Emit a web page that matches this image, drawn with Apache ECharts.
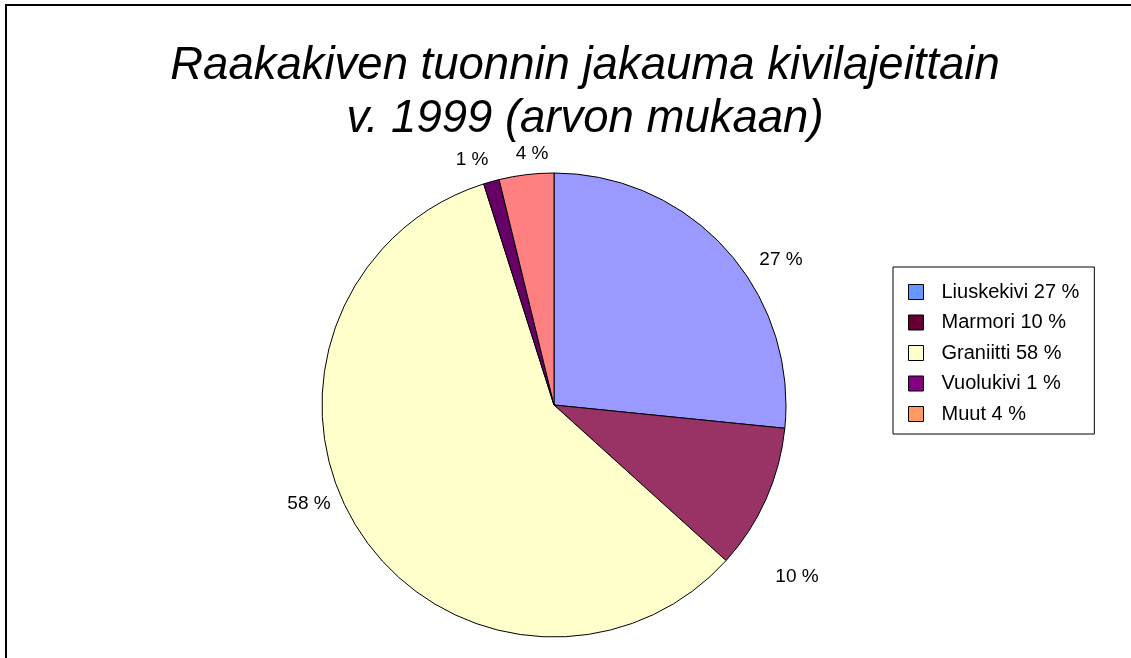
<!DOCTYPE html>
<html>
<head>
<meta charset="utf-8">
<script src="https://cdn.jsdelivr.net/npm/echarts@6/dist/echarts.min.js"></script>
<style>
  html, body { margin: 0; padding: 0; background: #fff; }
  #main { width: 1131px; height: 658px; }
</style>
</head>
<body>
<div id="main"></div>
<script>
// kivilajit ja osuudet (arvon mukaan, %)
var categories = ['Liuskekivi', 'Marmori', 'Graniitti', 'Vuolukivi', 'Muut'];
var shares = [26.6, 10.1, 58.4, 1.1, 3.8];
var sliceColors = ['#9999ff', '#993366', '#ffffcc', '#660066', '#ff8080'];
var legendColors = ['#6699ff', '#660033', '#ffffcc', '#800080', '#ff9966'];

window.onload = function() {
  var chartDom = document.getElementById('main');
  var myChart = echarts.init(chartDom);
  var font = 'Arial, "Liberation Sans", sans-serif';

  var total = 0;
  for (var i = 0; i < shares.length; i++) total += shares[i];

  var pieData = [];
  var legendData = [];
  for (var i = 0; i < categories.length; i++) {
    pieData.push({
      name: categories[i],
      value: shares[i],
      itemStyle: { color: sliceColors[i] }
    });
    legendData.push({
      name: categories[i],
      itemStyle: { color: legendColors[i], borderColor: '#000', borderWidth: 1 }
    });
  }

  // Excelin siirtämät prosenttitekstit (keskipiste)
  var labelPos = [[781, 260], [797, 577], [309, 504], [472, 160], [532, 154]];

  var option = {
    animation: false,
    backgroundColor: '#fff',
    title: {
      text: 'Raakakiven tuonnin jakauma kivilajeittain\nv. 1999 (arvon mukaan)',
      left: 580,
      top: 35,
      textAlign: 'center',
      textStyle: {
        fontFamily: font,
        fontSize: 45.5,
        fontStyle: 'italic',
        fontWeight: 'normal',
        color: '#000',
        lineHeight: 53
      }
    },
    legend: {
      orient: 'vertical',
      left: 893,
      top: 267,
      padding: [15, 15, 10, 15],
      itemWidth: 15,
      itemHeight: 15,
      itemGap: 10.5,
      borderColor: '#000',
      borderWidth: 1,
      icon: 'rect',
      selectedMode: false,
      data: legendData,
      formatter: function(name) {
        var idx = categories.indexOf(name);
        return name + ' ' + Math.round(shares[idx] / total * 100) + ' %';
      },
      textStyle: { fontFamily: font, fontSize: 20, lineHeight: 20, color: '#000', padding: [0, 0, 0, 13] }
    },
    graphic: [{
      type: 'rect',
      shape: { x: 6, y: 5, width: 1140, height: 700 },
      style: { fill: null, stroke: '#000', lineWidth: 2 },
      silent: true
    }],
    series: [{
      type: 'pie',
      center: [554, 405],
      radius: 232,
      startAngle: 90,
      clockwise: true,
      percentPrecision: 0,
      data: pieData,
      itemStyle: { borderColor: '#000', borderWidth: 1 },
      label: {
        show: true,
        position: 'outside',
        formatter: '{d} %',
        fontFamily: font,
        fontSize: 19,
        color: '#000'
      },
      labelLine: { show: false },
      labelLayout: function(params) {
        var p = labelPos[params.dataIndex];
        return { x: p[0], y: p[1], align: 'center', verticalAlign: 'middle' };
      },
      emphasis: { disabled: true }
    }]
  };
  option && myChart.setOption(option);
};
</script>
</body>
</html>
